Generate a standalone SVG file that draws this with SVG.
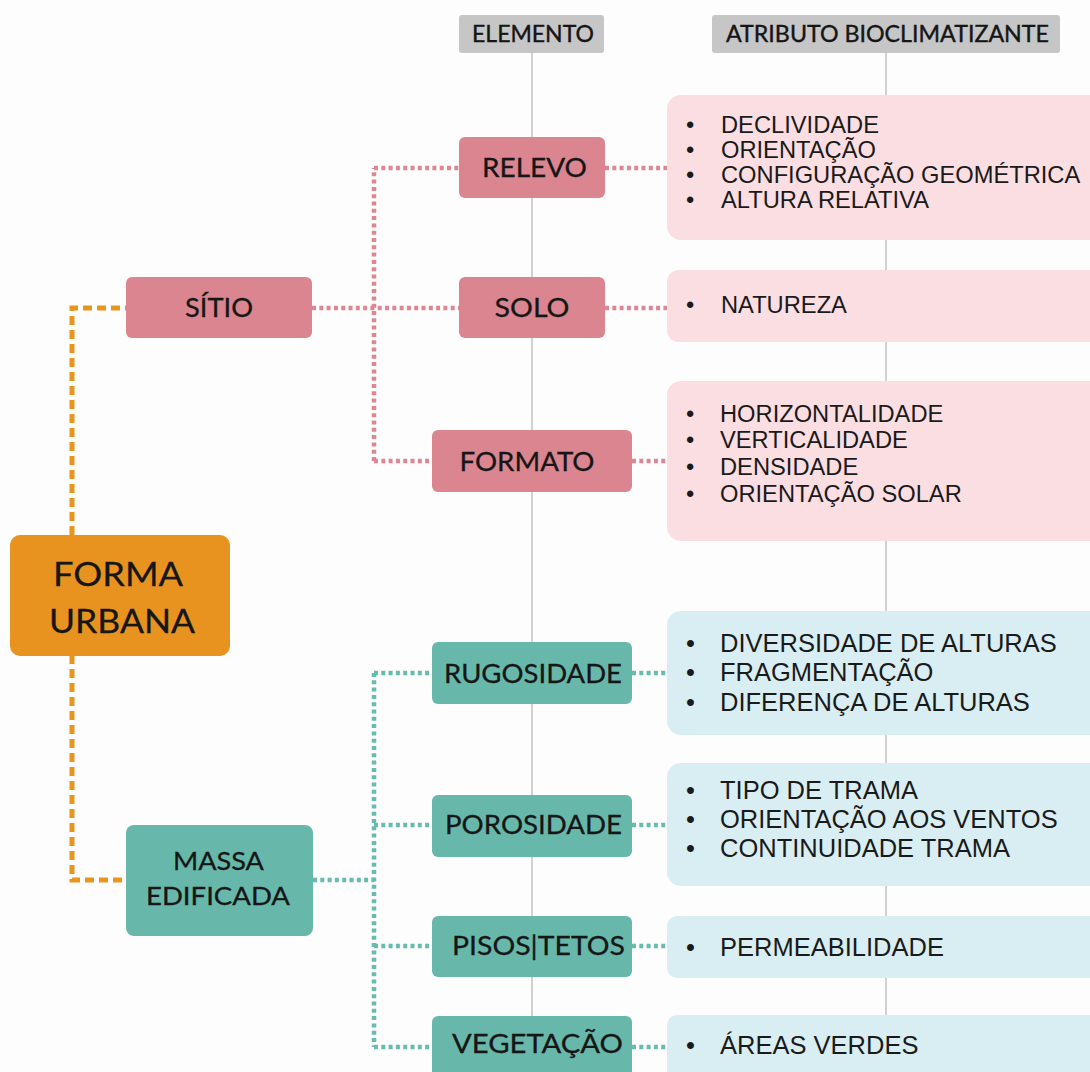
<svg xmlns="http://www.w3.org/2000/svg" width="1090" height="1072" viewBox="0 0 1090 1072">
<style>
.hdr{fill:#c6c6c6}
.hdrt{font-family:Lato,"Open Sans",sans-serif;font-size:23.5px;fill:#151515;text-anchor:middle;stroke:#151515;stroke-width:0.4}
.guide{stroke:#c2c2c2;stroke-width:1.5;fill:none}
.np{fill:#da8590}
.nt{fill:#67b8ab}
.no{fill:#e8931f}
.ap{fill:#fadee2}
.ab{fill:#d9eef2}
.lbl{font-family:Lato,"Open Sans",sans-serif;font-size:27.5px;fill:#161616;text-anchor:middle;stroke:#161616;stroke-width:0.3}
.a24{font-family:"Liberation Sans",Arial,sans-serif;font-size:23.7px;fill:#1a1a1a}
.a26{font-family:"Liberation Sans",Arial,sans-serif;font-size:25.5px;fill:#1a1a1a}
.cp{stroke:#dc8793;stroke-width:4.5;stroke-dasharray:4 3.3;fill:none}
.ct{stroke:#67bcae;stroke-width:4.5;stroke-dasharray:4 3.3;fill:none}
.co{stroke:#e8951e;stroke-width:5;stroke-dasharray:9 5;fill:none}
</style>
<rect width="1090" height="1072" fill="#fdfdfd"/>
<g id="guides">
<line class="guide" x1="532" y1="53" x2="532" y2="1072"/>
<line class="guide" x1="886" y1="53" x2="886" y2="1072"/>
</g>
<g id="header-elemento">
<rect class="hdr" x="459" y="15" width="145" height="38" rx="3"/>
<text class="hdrt" x="533" y="42" textLength="122" lengthAdjust="spacingAndGlyphs">ELEMENTO</text>
</g>
<g id="header-atributo">
<rect class="hdr" x="712" y="15" width="348" height="38" rx="3"/>
<text class="hdrt" x="887.5" y="42" textLength="323" lengthAdjust="spacingAndGlyphs">ATRIBUTO BIOCLIMATIZANTE</text>
</g>
<g id="connectors">
<path class="co" d="M72 535 V308 H126"/>
<path class="co" d="M72 655 V880 H126"/>
<path class="cp" d="M312 308 H459"/>
<path class="cp" d="M374 461 V168"/>
<path class="cp" d="M374 168 H459"/>
<path class="cp" d="M374 461 H432"/>
<path class="cp" d="M605 168 H667"/>
<path class="cp" d="M605 308 H667"/>
<path class="cp" d="M632 461 H667"/>
<path class="ct" d="M313 880 H374"/>
<path class="ct" d="M374 673 V1047"/>
<path class="ct" d="M374 673 H432"/>
<path class="ct" d="M374 825 H432"/>
<path class="ct" d="M374 946 H432"/>
<path class="ct" d="M374 1047 H432"/>
<path class="ct" d="M632 673 H667"/>
<path class="ct" d="M632 825 H667"/>
<path class="ct" d="M632 946 H667"/>
<path class="ct" d="M632 1047 H667"/>
</g>
<g id="attr-relevo">
<rect class="ap" x="667" y="95" width="440" height="145" rx="14"/>
<g class="a24">
<text x="686" y="133">•</text><text x="721" y="133">DECLIVIDADE</text>
<text x="686" y="158">•</text><text x="721" y="158">ORIENTAÇÃO</text>
<text x="686" y="183">•</text><text x="721" y="183">CONFIGURAÇÃO GEOMÉTRICA</text>
<text x="686" y="208">•</text><text x="721" y="208">ALTURA RELATIVA</text>
</g>
</g>
<g id="attr-solo">
<rect class="ap" x="667" y="270" width="440" height="72" rx="12"/>
<g class="a24">
<text x="686" y="313">•</text><text x="721" y="313">NATUREZA</text>
</g>
</g>
<g id="attr-formato">
<rect class="ap" x="667" y="381" width="440" height="160" rx="14"/>
<g class="a24">
<text x="686" y="422">•</text><text x="720" y="422">HORIZONTALIDADE</text>
<text x="686" y="448">•</text><text x="720" y="448">VERTICALIDADE</text>
<text x="686" y="475">•</text><text x="720" y="475">DENSIDADE</text>
<text x="686" y="502">•</text><text x="720" y="502">ORIENTAÇÃO SOLAR</text>
</g>
</g>
<g id="attr-rugosidade">
<rect class="ab" x="667" y="611" width="440" height="124" rx="14"/>
<g class="a26">
<text x="686" y="652">•</text><text x="720" y="652">DIVERSIDADE DE ALTURAS</text>
<text x="686" y="681">•</text><text x="720" y="681">FRAGMENTAÇÃO</text>
<text x="686" y="711">•</text><text x="720" y="711">DIFERENÇA DE ALTURAS</text>
</g>
</g>
<g id="attr-porosidade">
<rect class="ab" x="667" y="763" width="440" height="123" rx="14"/>
<g class="a26">
<text x="686" y="799">•</text><text x="720" y="799">TIPO DE TRAMA</text>
<text x="686" y="828">•</text><text x="720" y="828">ORIENTAÇÃO AOS VENTOS</text>
<text x="686" y="857">•</text><text x="720" y="857">CONTINUIDADE TRAMA</text>
</g>
</g>
<g id="attr-pisos">
<rect class="ab" x="667" y="916" width="440" height="62" rx="10"/>
<g class="a26">
<text x="686" y="956">•</text><text x="720" y="956">PERMEABILIDADE</text>
</g>
</g>
<g id="attr-vegetacao">
<rect class="ab" x="667" y="1015" width="440" height="80" rx="10"/>
<g class="a26">
<text x="686" y="1054">•</text><text x="720" y="1054">ÁREAS VERDES</text>
</g>
</g>
<g id="node-forma-urbana">
<rect class="no" x="10" y="535" width="220" height="121" rx="10"/>
<text class="lbl" x="118" y="586" style="font-size:33px" textLength="130" lengthAdjust="spacingAndGlyphs">FORMA</text>
<text class="lbl" x="122" y="633" style="font-size:33px" textLength="146" lengthAdjust="spacingAndGlyphs">URBANA</text>
</g>
<g id="node-sitio">
<rect class="np" x="126" y="277" width="186" height="61" rx="6"/>
<text class="lbl" x="219" y="317" textLength="68" lengthAdjust="spacingAndGlyphs">SÍTIO</text>
</g>
<g id="node-massa-edificada">
<rect class="nt" x="126" y="825" width="187" height="111" rx="8"/>
<text class="lbl" x="218.5" y="870" style="font-size:25px" textLength="91" lengthAdjust="spacingAndGlyphs">MASSA</text>
<text class="lbl" x="218" y="905" style="font-size:25px" textLength="144" lengthAdjust="spacingAndGlyphs">EDIFICADA</text>
</g>
<g id="node-relevo">
<rect class="np" x="459" y="137" width="146" height="61" rx="6"/>
<text class="lbl" x="534.5" y="177" textLength="105" lengthAdjust="spacingAndGlyphs">RELEVO</text>
</g>
<g id="node-solo">
<rect class="np" x="459" y="277" width="146" height="61" rx="6"/>
<text class="lbl" x="532" y="317" textLength="75" lengthAdjust="spacingAndGlyphs">SOLO</text>
</g>
<g id="node-formato">
<rect class="np" x="432" y="430" width="200" height="62" rx="6"/>
<text class="lbl" x="527" y="471" textLength="135" lengthAdjust="spacingAndGlyphs">FORMATO</text>
</g>
<g id="node-rugosidade">
<rect class="nt" x="432" y="642" width="200" height="62" rx="6"/>
<text class="lbl" x="533" y="683" textLength="178" lengthAdjust="spacingAndGlyphs">RUGOSIDADE</text>
</g>
<g id="node-porosidade">
<rect class="nt" x="432" y="795" width="200" height="62" rx="6"/>
<text class="lbl" x="533.5" y="834" textLength="177" lengthAdjust="spacingAndGlyphs">POROSIDADE</text>
</g>
<g id="node-pisos-tetos">
<rect class="nt" x="432" y="916" width="200" height="61" rx="6"/>
<text class="lbl" x="538.5" y="955" textLength="173" lengthAdjust="spacingAndGlyphs">PISOS|TETOS</text>
</g>
<g id="node-vegetacao">
<rect class="nt" x="432" y="1016" width="200" height="80" rx="6"/>
<text class="lbl" x="537.5" y="1053" textLength="171" lengthAdjust="spacingAndGlyphs">VEGETAÇÃO</text>
</g>
</svg>
